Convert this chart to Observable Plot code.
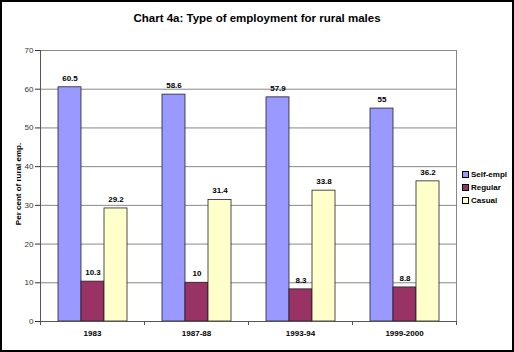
<!DOCTYPE html>
<html><head><meta charset="utf-8">
<script src="https://cdn.jsdelivr.net/npm/d3@7"></script>
<script src="https://cdn.jsdelivr.net/npm/@observablehq/plot@0.6"></script>
<style>
html,body{margin:0;padding:0;background:#fff;}
#wrap{position:relative;width:514px;height:352px;overflow:hidden;font-family:"Liberation Sans",Arial,sans-serif;}
#frame{position:absolute;left:0;top:0;width:514px;height:352px;box-sizing:border-box;border:2px solid #000;pointer-events:none;}
#title{position:absolute;left:0;top:12px;width:514px;text-align:center;font-weight:bold;font-size:11.5px;color:#000;}
#ylab{position:absolute;left:18px;top:184px;transform:translate(-50%,-50%) rotate(-90deg);font-weight:bold;font-size:8px;white-space:nowrap;}
#legend{position:absolute;left:462px;top:168px;font-size:8px;font-weight:bold;line-height:13px;}
#legend .it{display:flex;align-items:center;}
#legend .sw{width:5px;height:5px;border:1px solid #000;margin-right:2px;}
svg{position:absolute;left:0;top:0;}
</style></head>
<body><div id="wrap"></div>
<script>
const categories = ["1983", "1987-88", "1993-94", "1999-2000"];
const seriesNames = ["Self-empl", "Regular", "Casual"];
const selfEmpl = [60.5, 58.6, 57.9, 55];
const regular = [10.3, 10, 8.3, 8.8];
const casual = [29.2, 31.4, 33.8, 36.2];
const colors = ["#9999FF", "#993366", "#FFFFCC"];
const yTicks = [0, 10, 20, 30, 40, 50, 60, 70];

const vals = [selfEmpl, regular, casual];
const data = categories.flatMap((c, i) => seriesNames.map((s, j) => ({year: c, s, v: vals[j][i]})));

const plot = Plot.plot({
  width: 514, height: 352,
  marginLeft: 40, marginRight: 58, marginTop: 50, marginBottom: 31,
  style: {fontFamily: "'Liberation Sans', Arial, sans-serif", fontSize: "8px", background: "transparent", overflow: "visible"},
  fx: {domain: categories, padding: 0, label: null, axis: null},
  x: {domain: seriesNames, paddingInner: 0, paddingOuter: 0.74, axis: null},
  y: {domain: [0, 70], axis: null},
  color: {domain: seriesNames, range: colors},
  marks: [
    Plot.gridY(yTicks.slice(1), {stroke: "#888", strokeOpacity: 1}),
    Plot.barY(data, {fx: "year", x: "s", y: "v", fill: "s", stroke: "#222", strokeWidth: 0.8}),
    Plot.text(data, {fx: "year", x: "s", y: "v", text: d => String(d.v), dy: -9, fontWeight: "bold", fill: "#000"}),
    Plot.axisY({ticks: yTicks, tickSize: 5, tickPadding: 2, label: null, color: "#333"}),
    Plot.axisFx({anchor: "bottom", tickSize: 0, tickPadding: 9, label: null, fontWeight: "bold", color: "#000"})
  ]
});

// frame lines derived from scales: y axis line, bottom axis, right border, category boundary ticks
const fx = plot.scale("fx"), y = plot.scale("y");
const svg = d3.select(plot);
const y0 = y.apply(0), y70 = y.apply(70);
const left = fx.apply(categories[0]);
const step = fx.apply(categories[1]) - left;
const right = fx.apply(categories[categories.length - 1]) + step;
const g = svg.append("g").attr("stroke-width", 1).attr("shape-rendering", "crispEdges");
g.append("line").attr("x1", left).attr("x2", left).attr("y1", y0).attr("y2", y70).attr("stroke", "#555");
g.append("line").attr("x1", right).attr("x2", right).attr("y1", y0).attr("y2", y70).attr("stroke", "#888");
g.append("line").attr("x1", left).attr("x2", right).attr("y1", y0).attr("y2", y0).attr("stroke", "#555");
for (let i = 0; i <= categories.length; i++) {
  const xx = left + i * step;
  g.append("line").attr("x1", xx).attr("x2", xx).attr("y1", y0).attr("y2", y0 + 4).attr("stroke", "#555");
}

const wrap = document.getElementById("wrap");
wrap.appendChild(plot);
wrap.insertAdjacentHTML("beforeend", `<div id="title">Chart 4a: Type of employment for rural males</div><div id="ylab">Per cent of rural emp.</div>`);
const leg = document.createElement("div");
leg.id = "legend";
seriesNames.forEach((s, j) => {
  leg.insertAdjacentHTML("beforeend", `<div class="it"><span class="sw" style="background:${colors[j]}"></span>${s}</div>`);
});
wrap.appendChild(leg);
wrap.insertAdjacentHTML("beforeend", `<div id="frame"></div>`);
</script></body></html>
